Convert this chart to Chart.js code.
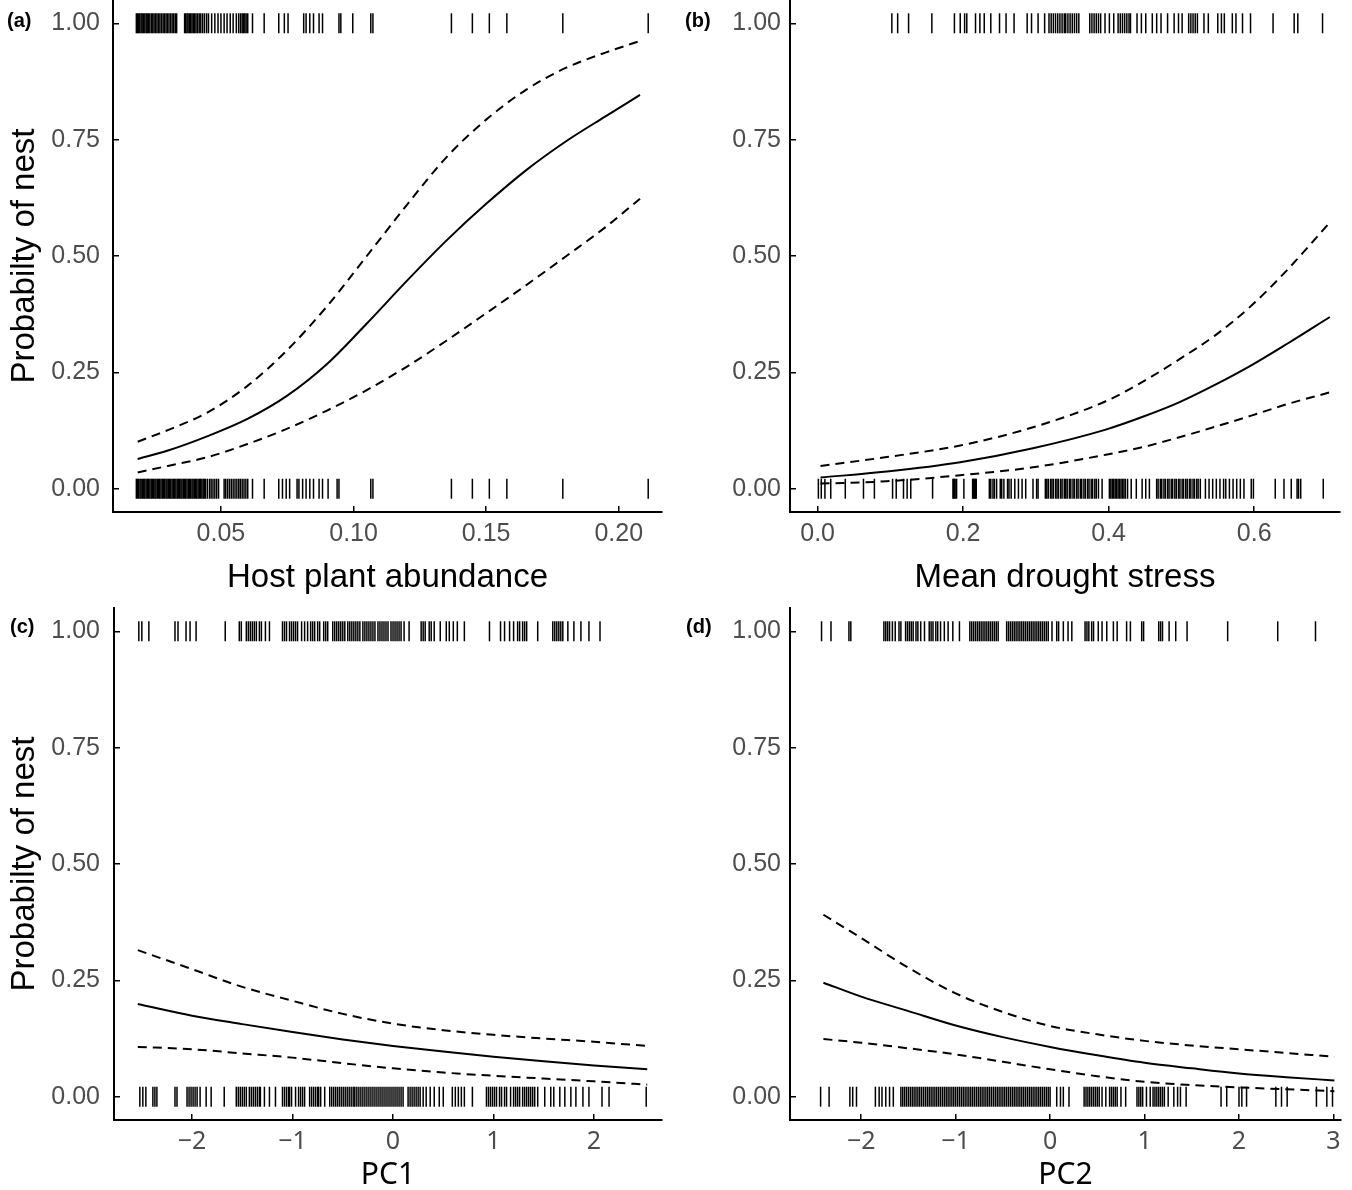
<!DOCTYPE html>
<html>
<head>
<meta charset="utf-8">
<script src="https://cdn.jsdelivr.net/npm/chart.js@4.4.1/dist/chart.umd.min.js"></script>
<style>
  body { margin: 0; background: #fff; width: 1352px; height: 1190px; position: relative; overflow: hidden; }
  canvas { position: absolute; }
  .tag { position: absolute; font: bold 20px "Liberation Sans", Arial, sans-serif; line-height: 24px; color: #000; }
</style>
</head>
<body>
<canvas id="chartA" width="676" height="600" style="left:0;top:0"></canvas>
<canvas id="chartB" width="676" height="600" style="left:676px;top:0"></canvas>
<canvas id="chartC" width="676" height="600" style="left:0;top:600px"></canvas>
<canvas id="chartD" width="676" height="600" style="left:676px;top:600px"></canvas>
<div class="tag" style="left:7px;top:8px">(a)</div>
<div class="tag" style="left:685px;top:8px">(b)</div>
<div class="tag" style="left:10px;top:614px">(c)</div>
<div class="tag" style="left:686px;top:614px">(d)</div>
<script>
const yTicks = [0, 0.25, 0.5, 0.75, 1];

// (a) host plant abundance
const hostX = [0.0186, 0.030, 0.045, 0.060, 0.075, 0.090, 0.105, 0.120, 0.135, 0.150, 0.165, 0.180, 0.195, 0.208];
const hostFit = [0.064, 0.082, 0.113, 0.150, 0.200, 0.268, 0.355, 0.446, 0.533, 0.612, 0.684, 0.746, 0.800, 0.846];
const hostUpper = [0.101, 0.126, 0.164, 0.221, 0.298, 0.392, 0.500, 0.609, 0.712, 0.793, 0.857, 0.904, 0.937, 0.962];
const hostLower = [0.035, 0.049, 0.068, 0.096, 0.129, 0.168, 0.212, 0.262, 0.318, 0.377, 0.437, 0.499, 0.562, 0.623];
const hostNest = [0.0181, 0.0185, 0.0189, 0.0194, 0.0199, 0.0203, 0.0208, 0.0213, 0.0218, 0.0222, 0.0227, 0.0232, 0.0238, 0.0243,
  0.0248, 0.0254, 0.0259, 0.0265, 0.0270, 0.0276, 0.0282, 0.0287, 0.0293, 0.0298, 0.0304, 0.0310, 0.0316, 0.0322, 0.0328, 0.0333,
  0.0363, 0.0367, 0.0372, 0.0376, 0.0381, 0.0386, 0.0391, 0.0396, 0.0401, 0.0406, 0.0412, 0.0418, 0.0424, 0.0431, 0.0438, 0.0446,
  0.0453, 0.0465, 0.0477, 0.0489, 0.0500, 0.0512, 0.0523, 0.0535, 0.0546, 0.0558, 0.0567, 0.0574, 0.0580, 0.0585, 0.0590, 0.0595,
  0.0601, 0.0619, 0.0663, 0.0718, 0.0739, 0.0753, 0.0812, 0.0821, 0.0835, 0.0849, 0.0870, 0.0883, 0.0945, 0.0952, 0.0997, 0.1065,
  0.1073, 0.1369, 0.1448, 0.1512, 0.1578, 0.1789, 0.2111];
const hostNoNest = [0.0181, 0.0185, 0.0190, 0.0195, 0.0199, 0.0204, 0.0209, 0.0213, 0.0218, 0.0223, 0.0227, 0.0232, 0.0237, 0.0241,
  0.0246, 0.0251, 0.0255, 0.0260, 0.0265, 0.0269, 0.0274, 0.0279, 0.0283, 0.0288, 0.0293, 0.0297, 0.0302, 0.0307, 0.0311, 0.0316,
  0.0321, 0.0325, 0.0330, 0.0335, 0.0339, 0.0344, 0.0349, 0.0353, 0.0358, 0.0363, 0.0367, 0.0372, 0.0377, 0.0381, 0.0386, 0.0391,
  0.0395, 0.0400, 0.0405, 0.0409, 0.0414, 0.0419, 0.0423, 0.0428, 0.0433, 0.0437, 0.0442, 0.0449, 0.0457, 0.0463, 0.0470, 0.0477,
  0.0484, 0.0491, 0.0512, 0.0518, 0.0525, 0.0532, 0.0539, 0.0546, 0.0553, 0.0560, 0.0567, 0.0573, 0.0580, 0.0587, 0.0594, 0.0601,
  0.0619, 0.0663, 0.0718, 0.0732, 0.0746, 0.0759, 0.0787, 0.0794, 0.0808, 0.0821, 0.0835, 0.0849, 0.0870, 0.0883, 0.0904, 0.0938,
  0.0945, 0.1065, 0.1073, 0.1369, 0.1448, 0.1512, 0.1578, 0.1789, 0.2111];
const hostTicks = [0.05, 0.10, 0.15, 0.20];

// (b) mean drought stress
const droughtX = [0.004, 0.095, 0.196, 0.296, 0.396, 0.446, 0.496, 0.546, 0.596, 0.646, 0.704];
const droughtFit = [0.024, 0.037, 0.057, 0.087, 0.127, 0.154, 0.185, 0.223, 0.265, 0.312, 0.369];
const droughtUpper = [0.049, 0.068, 0.093, 0.132, 0.188, 0.229, 0.277, 0.329, 0.393, 0.471, 0.572];
const droughtLower = [0.011, 0.016, 0.029, 0.046, 0.073, 0.089, 0.110, 0.133, 0.157, 0.182, 0.207];
const droughtNest = [0.102, 0.110, 0.125, 0.157, 0.188, 0.196, 0.202, 0.205, 0.217, 0.223, 0.229, 0.238, 0.250, 0.259, 0.270,
  0.288, 0.294, 0.303, 0.312, 0.318, 0.321, 0.324, 0.327, 0.330, 0.333, 0.336, 0.339, 0.341, 0.344, 0.347, 0.350, 0.353, 0.356,
  0.359, 0.374, 0.377, 0.380, 0.383, 0.386, 0.389, 0.395, 0.401, 0.407, 0.413, 0.416, 0.419, 0.422, 0.425, 0.428, 0.430, 0.439,
  0.445, 0.451, 0.460, 0.466, 0.472, 0.481, 0.490, 0.496, 0.501, 0.510, 0.513, 0.516, 0.519, 0.522, 0.531, 0.537, 0.550, 0.555,
  0.559, 0.570, 0.575, 0.584, 0.595, 0.626, 0.655, 0.660, 0.694];
const droughtNoNest = [0.001, 0.005, 0.010, 0.018, 0.038, 0.063, 0.078, 0.103, 0.108, 0.118, 0.123, 0.128, 0.158, 0.186, 0.187,
  0.188, 0.189, 0.191, 0.201, 0.213, 0.214, 0.215, 0.216, 0.217, 0.218, 0.236, 0.238, 0.241, 0.243, 0.246, 0.251, 0.253, 0.256,
  0.261, 0.263, 0.266, 0.271, 0.276, 0.281, 0.286, 0.296, 0.301, 0.303, 0.313, 0.315, 0.317, 0.320, 0.322, 0.324, 0.327, 0.329,
  0.331, 0.334, 0.336, 0.339, 0.341, 0.343, 0.346, 0.348, 0.351, 0.353, 0.356, 0.358, 0.361, 0.363, 0.366, 0.368, 0.371, 0.373,
  0.376, 0.378, 0.381, 0.383, 0.386, 0.391, 0.401, 0.403, 0.405, 0.407, 0.409, 0.411, 0.413, 0.415, 0.417, 0.419, 0.421, 0.423,
  0.426, 0.431, 0.438, 0.446, 0.451, 0.456, 0.466, 0.468, 0.471, 0.473, 0.476, 0.478, 0.481, 0.483, 0.486, 0.488, 0.491, 0.493,
  0.496, 0.498, 0.501, 0.503, 0.506, 0.508, 0.511, 0.513, 0.516, 0.518, 0.521, 0.523, 0.526, 0.533, 0.538, 0.543, 0.548, 0.553,
  0.558, 0.561, 0.566, 0.571, 0.576, 0.581, 0.586, 0.596, 0.599, 0.629, 0.641, 0.651, 0.659, 0.661, 0.664, 0.695];
const droughtTicks = [0, 0.2, 0.4, 0.6];

// (c) PC1
const pc1X = [-2.54, -2, -1.5, -1, -0.5, 0, 0.5, 1, 1.5, 2, 2.53];
const pc1Fit = [0.199, 0.174, 0.156, 0.139, 0.123, 0.109, 0.097, 0.086, 0.076, 0.067, 0.059];
const pc1Upper = [0.315, 0.274, 0.236, 0.206, 0.178, 0.157, 0.143, 0.133, 0.125, 0.118, 0.109];
const pc1Lower = [0.107, 0.102, 0.093, 0.084, 0.072, 0.061, 0.052, 0.045, 0.039, 0.033, 0.026];
const pc1Nest = [-2.53, -2.50, -2.43, -2.17, -2.14, -2.06, -2.02, -1.96, -1.67, -1.53, -1.51, -1.46, -1.44, -1.42, -1.40, -1.38,
  -1.36, -1.33, -1.31, -1.27, -1.23, -1.10, -1.08, -1.06, -1.03, -1.01, -0.99, -0.97, -0.95, -0.91, -0.88, -0.85, -0.82, -0.80,
  -0.78, -0.75, -0.73, -0.69, -0.67, -0.65, -0.60, -0.58, -0.56, -0.54, -0.52, -0.50, -0.48, -0.45, -0.43, -0.41, -0.39, -0.37,
  -0.35, -0.33, -0.30, -0.28, -0.26, -0.24, -0.22, -0.20, -0.18, -0.15, -0.13, -0.11, -0.09, -0.07, -0.05, -0.02, 0.00, 0.02,
  0.04, 0.06, 0.08, 0.11, 0.16, 0.28, 0.30, 0.32, 0.36, 0.38, 0.41, 0.47, 0.53, 0.56, 0.60, 0.64, 0.71, 0.96, 1.07, 1.11, 1.16,
  1.20, 1.24, 1.26, 1.29, 1.31, 1.33, 1.44, 1.59, 1.61, 1.63, 1.65, 1.67, 1.69, 1.74, 1.80, 1.87, 1.95, 2.06];
const pc1NoNest = [-2.52, -2.49, -2.46, -2.39, -2.37, -2.35, -2.17, -2.15, -2.05, -2.03, -2.01, -1.99, -1.97, -1.95, -1.92, -1.86,
  -1.81, -1.68, -1.56, -1.54, -1.52, -1.50, -1.48, -1.46, -1.43, -1.41, -1.39, -1.37, -1.35, -1.33, -1.32, -1.28, -1.23, -1.17,
  -1.10, -1.08, -1.06, -1.04, -1.03, -1.01, -0.97, -0.94, -0.92, -0.90, -0.88, -0.83, -0.81, -0.79, -0.77, -0.75, -0.74, -0.72,
  -0.68, -0.63, -0.61, -0.59, -0.57, -0.55, -0.53, -0.51, -0.49, -0.47, -0.45, -0.43, -0.41, -0.39, -0.38, -0.36, -0.34, -0.32,
  -0.30, -0.28, -0.26, -0.24, -0.22, -0.20, -0.18, -0.16, -0.14, -0.12, -0.10, -0.08, -0.06, -0.04, -0.02, 0.00, 0.02, 0.04,
  0.06, 0.08, 0.10, 0.15, 0.17, 0.19, 0.21, 0.23, 0.25, 0.27, 0.30, 0.33, 0.37, 0.41, 0.46, 0.50, 0.59, 0.62, 0.65, 0.68, 0.71,
  0.79, 0.93, 0.95, 0.97, 0.99, 1.01, 1.03, 1.06, 1.08, 1.11, 1.13, 1.17, 1.20, 1.22, 1.24, 1.26, 1.29, 1.31, 1.33, 1.35, 1.37,
  1.39, 1.41, 1.44, 1.51, 1.57, 1.60, 1.66, 1.71, 1.77, 1.82, 1.89, 1.95, 2.08, 2.15, 2.52];
const pc1Ticks = [-2, -1, 0, 1, 2];

// (d) PC2
const pc2X = [-2.40, -2, -1.5, -1, -0.5, 0, 0.5, 1, 1.5, 2, 2.5, 3.01];
const pc2Fit = [0.245, 0.215, 0.184, 0.153, 0.128, 0.107, 0.089, 0.073, 0.061, 0.050, 0.042, 0.035];
const pc2Upper = [0.391, 0.341, 0.277, 0.222, 0.182, 0.152, 0.134, 0.120, 0.110, 0.102, 0.094, 0.086];
const pc2Lower = [0.124, 0.116, 0.104, 0.091, 0.075, 0.059, 0.044, 0.032, 0.025, 0.020, 0.016, 0.012];
const pc2Nest = [-2.42, -2.32, -2.13, -2.11, -1.76, -1.74, -1.72, -1.70, -1.67, -1.64, -1.60, -1.58, -1.53, -1.51, -1.49, -1.47,
  -1.45, -1.42, -1.40, -1.37, -1.33, -1.28, -1.26, -1.24, -1.21, -1.19, -1.16, -1.12, -1.08, -1.03, -0.96, -0.85, -0.83, -0.81,
  -0.79, -0.77, -0.75, -0.73, -0.71, -0.69, -0.67, -0.65, -0.63, -0.61, -0.59, -0.57, -0.55, -0.46, -0.44, -0.42, -0.40, -0.38,
  -0.36, -0.34, -0.32, -0.30, -0.28, -0.26, -0.24, -0.22, -0.20, -0.18, -0.16, -0.14, -0.12, -0.10, -0.08, -0.06, -0.04, -0.02,
  0.02, 0.07, 0.09, 0.14, 0.19, 0.23, 0.37, 0.39, 0.41, 0.44, 0.46, 0.51, 0.55, 0.60, 0.67, 0.71, 0.81, 0.85, 0.97, 0.99, 1.15,
  1.17, 1.19, 1.26, 1.33, 1.45, 1.88, 2.41, 2.81];
const pc2NoNest = [-2.43, -2.34, -2.12, -2.09, -2.05, -1.85, -1.81, -1.78, -1.74, -1.70, -1.66, -1.58, -1.56, -1.54, -1.52, -1.50,
  -1.48, -1.46, -1.44, -1.42, -1.40, -1.38, -1.36, -1.34, -1.32, -1.30, -1.28, -1.26, -1.24, -1.22, -1.20, -1.18, -1.16, -1.14,
  -1.12, -1.10, -1.08, -1.06, -1.04, -1.02, -1.00, -0.98, -0.96, -0.94, -0.92, -0.90, -0.88, -0.86, -0.84, -0.82, -0.80, -0.78,
  -0.76, -0.74, -0.72, -0.70, -0.68, -0.66, -0.64, -0.62, -0.60, -0.58, -0.56, -0.54, -0.52, -0.50, -0.48, -0.46, -0.44, -0.42,
  -0.40, -0.38, -0.36, -0.34, -0.32, -0.30, -0.28, -0.26, -0.24, -0.22, -0.20, -0.18, -0.16, -0.14, -0.12, -0.10, -0.08, -0.06,
  -0.04, -0.02, 0.00, 0.07, 0.11, 0.14, 0.20, 0.36, 0.38, 0.40, 0.42, 0.44, 0.46, 0.48, 0.50, 0.52, 0.55, 0.59, 0.63, 0.65, 0.67,
  0.69, 0.71, 0.75, 0.80, 0.92, 0.94, 0.96, 0.98, 1.02, 1.06, 1.09, 1.11, 1.13, 1.15, 1.17, 1.19, 1.21, 1.25, 1.31, 1.35, 1.38,
  1.44, 1.81, 1.87, 2.00, 2.03, 2.08, 2.39, 2.45, 2.51, 2.82, 2.93, 2.99];
const pc2Ticks = [-2, -1, 0, 1, 2, 3];

const sans = '"Liberation Sans", Arial, sans-serif';
const noto = '"Noto Sans", sans-serif';

function pts(xs, ys) {
  return xs.map((x, i) => ({ x: x, y: ys[i] }));
}

function rug(xs, y) {
  return xs.map(x => ({ x: x, y: y }));
}

function minus(v) {
  return v < 0 ? '\u2212' + Math.abs(v) : String(v);
}

function createChart(id, p) {
  const curve = (data, dash) => ({
    data: data, showLine: true, pointRadius: 0, borderColor: '#000', borderWidth: 2,
    borderDash: dash, cubicInterpolationMode: 'monotone', fill: false
  });
  const ticks = (data) => ({
    data: data, pointStyle: 'line', pointRadius: 10, pointRotation: 90,
    pointBorderWidth: 1.5, pointBorderColor: '#000', pointBackgroundColor: '#000'
  });
  return new Chart(document.getElementById(id), {
    type: 'scatter',
    data: {
      datasets: [
        ticks(rug(p.noNest, 0)),
        ticks(rug(p.nest, 1)),
        curve(pts(p.x, p.upper), [9, 6]),
        curve(pts(p.x, p.lower), [9, 6]),
        curve(pts(p.x, p.fit), [])
      ]
    },
    options: {
      responsive: false,
      animation: false,
      devicePixelRatio: 1,
      events: [],
      layout: { autoPadding: false, padding: { left: 0, top: p.top, right: p.right, bottom: 0 } },
      plugins: { legend: { display: false }, tooltip: { enabled: false } },
      scales: {
        x: {
          type: 'linear', min: p.xMin, max: p.xMax,
          afterBuildTicks: s => { s.ticks = p.xTicks.map(v => ({ value: v })); },
          afterFit: s => { s.height = p.xH; s.paddingLeft = 0; s.paddingRight = 0; },
          ticks: { callback: v => p.fmt(v), font: { family: p.xFont, size: 25 }, color: '#4d4d4d',
                   padding: 13, maxRotation: 0, autoSkip: false },
          grid: { drawOnChartArea: false, drawTicks: true, tickLength: -6, color: '#000', lineWidth: 1.5 },
          border: { display: true, color: '#000', width: 2 },
          title: { display: true, text: p.xTitle, color: '#000', font: { family: p.xFont, size: p.xTitleSize },
                   padding: { top: 0, bottom: p.xTitlePad } }
        },
        y: {
          type: 'linear', min: -0.05, max: 1.05,
          afterBuildTicks: s => { s.ticks = yTicks.map(v => ({ value: v })); },
          afterFit: s => { s.width = p.yW; s.paddingTop = 0; s.paddingBottom = 0; },
          ticks: { callback: v => v.toFixed(2), font: { family: sans, size: 25 }, color: '#4d4d4d',
                   padding: p.yPad, autoSkip: false },
          grid: { drawOnChartArea: false, drawTicks: true, tickLength: -6, color: '#000', lineWidth: 1.5 },
          border: { display: true, color: '#000', width: 2 },
          title: { display: !!p.yTitle, text: p.yTitle || '', color: '#000', font: { family: sans, size: 33 },
                   padding: { top: 5, bottom: 0 } }
        }
      }
    }
  });
}

createChart('chartA', {
  x: hostX, fit: hostFit, upper: hostUpper, lower: hostLower, nest: hostNest, noNest: hostNoNest,
  xTicks: hostTicks, xMin: 0.0093, xMax: 0.2163, fmt: v => v.toFixed(2),
  xTitle: 'Host plant abundance', xFont: sans, xTitleSize: 33, xTitlePad: 2,
  yTitle: 'Probabilty of nest', yW: 113, yPad: 19, top: 0, right: 14, xH: 88
});

createChart('chartB', {
  x: droughtX, fit: droughtFit, upper: droughtUpper, lower: droughtLower, nest: droughtNest, noNest: droughtNoNest,
  xTicks: droughtTicks, xMin: -0.038, xMax: 0.718, fmt: v => v.toFixed(1),
  xTitle: 'Mean drought stress', xFont: sans, xTitleSize: 33, xTitlePad: 2,
  yTitle: null, yW: 114, yPad: 15, top: 0, right: 12, xH: 88
});

createChart('chartC', {
  x: pc1X, fit: pc1Fit, upper: pc1Upper, lower: pc1Lower, nest: pc1Nest, noNest: pc1NoNest,
  xTicks: pc1Ticks, xMin: -2.777, xMax: 2.677, fmt: minus,
  xTitle: 'PC1', xFont: noto, xTitleSize: 30, xTitlePad: 7,
  yTitle: 'Probabilty of nest', yW: 114, yPad: 20, top: 8, right: 14, xH: 80
});

createChart('chartD', {
  x: pc2X, fit: pc2Fit, upper: pc2Upper, lower: pc2Lower, nest: pc2Nest, noNest: pc2NoNest,
  xTicks: pc2Ticks, xMin: -2.754, xMax: 3.08, fmt: minus,
  xTitle: 'PC2', xFont: noto, xTitleSize: 30, xTitlePad: 7,
  yTitle: null, yW: 114, yPad: 15, top: 8, right: 11, xH: 80
});
</script>
</body>
</html>
